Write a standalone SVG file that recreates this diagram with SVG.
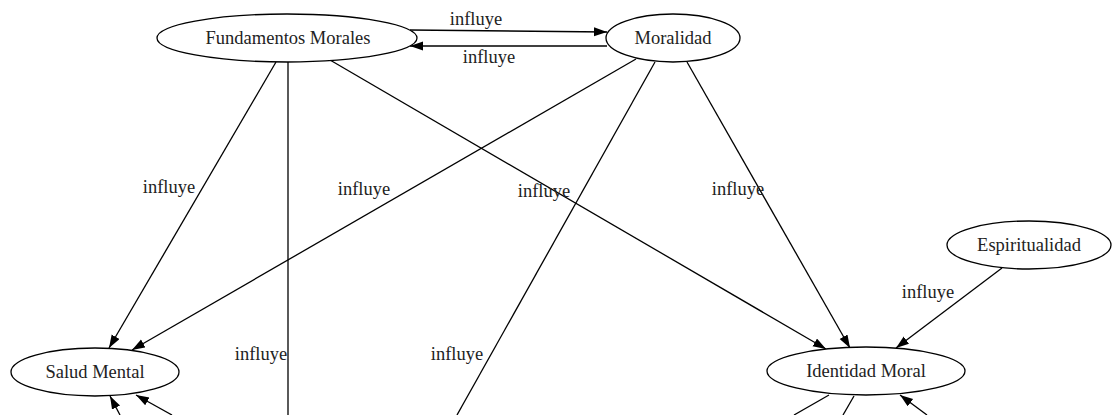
<svg xmlns="http://www.w3.org/2000/svg" width="1112" height="415" viewBox="0 0 1112 415">
<style>
.node ellipse{fill:#fff;stroke:#000;stroke-width:1.3}
text{font-family:'Liberation Serif','Times New Roman',Times,serif;font-size:18.5px;fill:#222;text-anchor:middle}
.edges line{stroke:#000;stroke-width:1.3;fill:none}
.edges .a{marker-end:url(#ah)}
</style>
<defs>
<marker id="ah" markerUnits="userSpaceOnUse" markerWidth="14" markerHeight="10" refX="13" refY="4.5" orient="auto">
<path d="M0,0 L13,4.5 L0,9 z" fill="#000"/>
</marker>
</defs>
<rect width="1112" height="415" fill="#fff"/>
<g class="edges" id="edges">
<line class="a" x1="410" y1="30" x2="607" y2="32"/>
<text x="476" y="25">influye</text>
<line class="a" x1="607" y1="46" x2="410" y2="46"/>
<text x="489" y="63">influye</text>
<line class="a" x1="276" y1="62" x2="109" y2="348"/>
<text x="169" y="193">influye</text>
<line x1="288" y1="62" x2="288" y2="415"/>
<text x="261" y="360">influye</text>
<line class="a" x1="330" y1="60" x2="826" y2="349"/>
<text x="544" y="197">influye</text>
<line class="a" x1="636" y1="59" x2="132" y2="350"/>
<text x="364" y="195">influye</text>
<line x1="655" y1="62" x2="457" y2="415"/>
<text x="457" y="360">influye</text>
<line class="a" x1="687" y1="62" x2="850" y2="348"/>
<text x="738" y="195">influye</text>
<line class="a" x1="1002" y1="268" x2="896" y2="348"/>
<text x="928" y="298">influye</text>
<line class="a" x1="120" y1="415" x2="110" y2="396"/>
<line class="a" x1="172" y1="415" x2="136" y2="395"/>
<line x1="829" y1="395" x2="794" y2="415"/>
<line x1="854" y1="396" x2="843" y2="415"/>
<line class="a" x1="927" y1="415" x2="900" y2="395"/>
</g>
<g class="node" id="n_fundamentos">
<ellipse cx="287" cy="38" rx="130" ry="24"/>
<text x="288" y="44">Fundamentos Morales</text>
</g>
<g class="node" id="n_moralidad">
<ellipse cx="673" cy="38" rx="67" ry="24"/>
<text x="673" y="44">Moralidad</text>
</g>
<g class="node" id="n_espiritualidad">
<ellipse cx="1029" cy="245" rx="82" ry="24"/>
<text x="1029" y="251">Espiritualidad</text>
</g>
<g class="node" id="n_salud">
<ellipse cx="95" cy="372" rx="84" ry="24"/>
<text x="95" y="378">Salud Mental</text>
</g>
<g class="node" id="n_identidad">
<ellipse cx="866" cy="371" rx="99" ry="24"/>
<text x="866" y="377">Identidad Moral</text>
</g>
</svg>
